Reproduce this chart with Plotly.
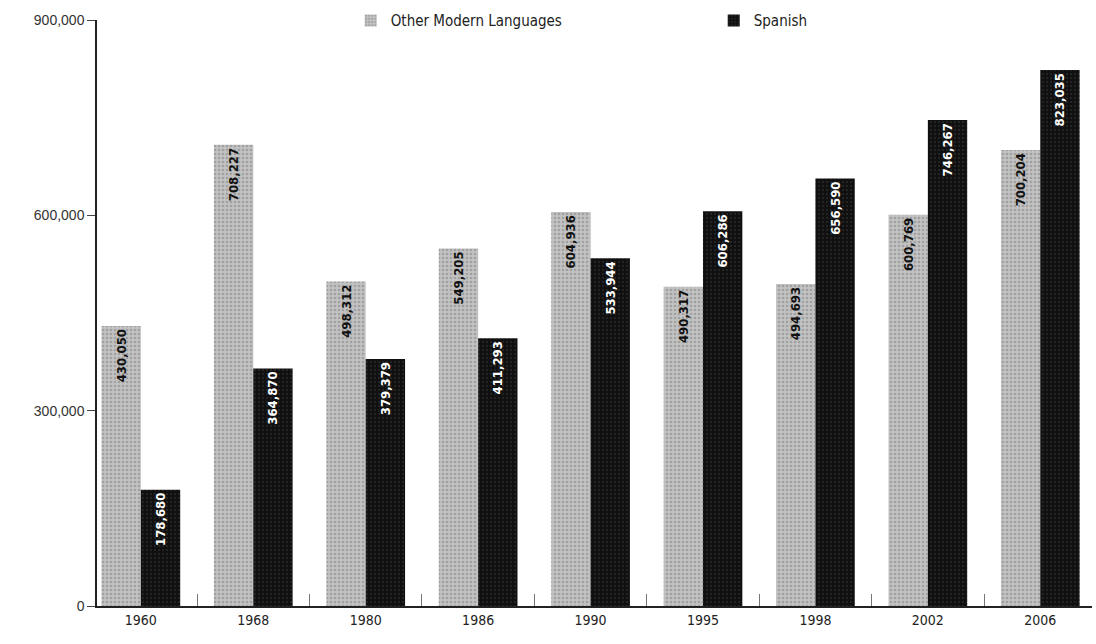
import plotly.graph_objects as go

years = ["1960", "1968", "1980", "1986", "1990", "1995", "1998", "2002", "2006"]
other_modern = [430050, 708227, 498312, 549205, 604936, 490317, 494693, 600769, 700204]
spanish = [178680, 364870, 379379, 411293, 533944, 606286, 656590, 746267, 823035]
y_ticks = [0, 300000, 600000, 900000]

COND = "DejaVu Sans Condensed, Liberation Sans Narrow, Arial Narrow, sans-serif"

fig = go.Figure()
fig.add_trace(go.Bar(
    name="Other Modern Languages", x=years, y=other_modern,
    marker=dict(color="#b4b4b4", line=dict(width=0),
                pattern=dict(shape=".", fgcolor="#7e7e7e", bgcolor="#c2c2c2", size=4, solidity=0.35)),
    text=[f"{v:,}" for v in other_modern], textposition="inside", insidetextanchor="end",
    textangle=-90, textfont=dict(color="#111111", size=13, family=COND, weight="bold"),
))
fig.add_trace(go.Bar(
    name="Spanish", x=years, y=spanish,
    marker=dict(color="#161616", line=dict(width=0),
                pattern=dict(shape=".", fgcolor="#444444", bgcolor="#101010", size=4, solidity=0.2)),
    text=[f"{v:,}" for v in spanish], textposition="inside", insidetextanchor="end",
    textangle=-90, textfont=dict(color="#ffffff", size=13, family=COND, weight="bold"),
))

fig.update_layout(
    width=1096, height=644,
    margin=dict(l=97, r=4, t=18, b=38),
    paper_bgcolor="white", plot_bgcolor="white",
    barmode="group", bargap=0.3, bargroupgap=0.0,
    font=dict(family=COND, size=14, color="#222222"),
    showlegend=True,
    legend=dict(orientation="h", x=0.255, xanchor="left", y=1.027, yanchor="top",
                font=dict(size=15, family=COND), entrywidth=318, itemwidth=30,
                traceorder="normal", bgcolor="rgba(0,0,0,0)"),
    uniformtext=dict(minsize=12, mode="show"),
)
fig.update_xaxes(
    type="category", range=[-0.39, 8.46],
    showline=True, linecolor="#222222", linewidth=1.5,
    ticks="inside", tickson="boundaries", ticklen=12, tickcolor="#777777",
    tickfont=dict(size=14, family=COND, color="#222222"),
    showgrid=False,
)
fig.update_yaxes(
    range=[0, 900000], tickvals=y_ticks, tickformat=",",
    showline=True, linecolor="#222222", linewidth=1.5,
    ticks="outside", ticklen=8, tickcolor="#444444",
    tickfont=dict(size=14, family="Liberation Sans, Arial, sans-serif", color="#333333"),
    showgrid=False, zeroline=False,
)

fig.write_html("out.html")
